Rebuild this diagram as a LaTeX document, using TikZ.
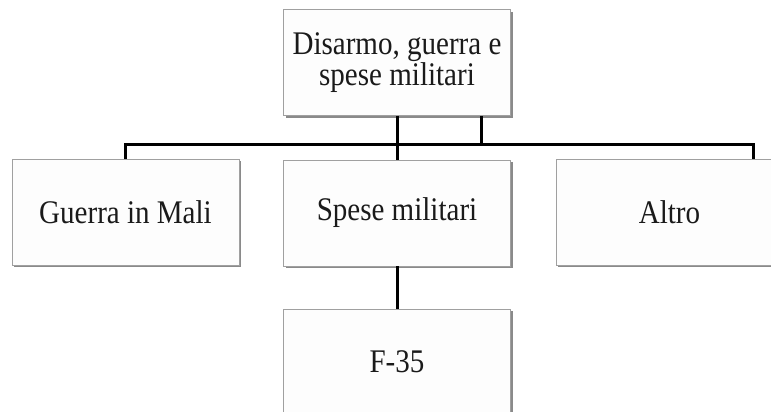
\documentclass[tikz,border=0pt]{standalone}
\usepackage{fontspec}
\setmainfont{Liberation Serif}
\newfontfamily\boxfont[FakeStretch=0.88]{Liberation Serif}
\usetikzlibrary{shadows}
\definecolor{boxline}{HTML}{A0A0A0}
\definecolor{shadowc}{HTML}{8A8A8A}
\definecolor{boxfill}{HTML}{FDFDFD}
\definecolor{txt}{HTML}{1A1A1A}
\tikzset{
  orgbox/.style={draw=boxline, line width=0.9pt, fill=boxfill, minimum width=227pt, minimum height=106pt,
    inner sep=0pt, align=center, text=txt, font=\boxfont\fontsize{33}{29}\selectfont,
    drop shadow={shadow xshift=2.2pt, shadow yshift=-2.2pt, fill=shadowc, opacity=1}},
  conn/.style={draw=black, line width=3pt}
}
\begin{document}
\begin{tikzpicture}[x=1pt,y=-1pt]
\useasboundingbox (0,0) rectangle (771,412);
\clip (0,0) rectangle (771,412);
\fill[white] (0,0) rectangle (771,412);
\coordinate (busy) at (0,144.5);
\coordinate (stub) at (481,0);
\coordinate (rstub) at (753,0);
\node[orgbox] (top) at (397,62.5) {Disarmo, guerra e\\spese militari};
\node[orgbox] (left) at (125.5,212) {Guerra in Mali};
\node[orgbox] (mid) at (397,213) {Spese militari};
\node[orgbox] (right) at (669.5,212) {Altro};
\node[orgbox] (f35) at (397,362) {F-35};
\draw[conn] (left.north) -- (left.north |- busy) -- (rstub |- busy) -- (rstub |- right.north);
\draw[conn] (top.south) -- (mid.north);
\draw[conn] (top.south -| stub) -- (stub |- busy);
\draw[conn] (mid.south) -- (f35.north);
\end{tikzpicture}
\end{document}
